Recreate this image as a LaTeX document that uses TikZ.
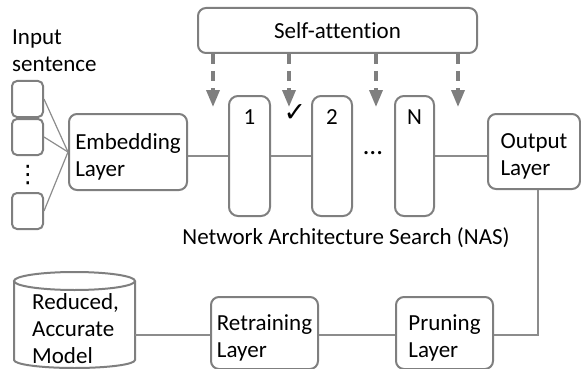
\documentclass[tikz,border=0pt]{standalone}
\usepackage{fontspec}
\setmainfont{Carlito}[Ligatures=NoCommon]
\newfontfamily\symfont{DejaVu Sans}
\usetikzlibrary{arrows.meta}
\definecolor{edgegray}{HTML}{7F7F7F}
\definecolor{conngray}{HTML}{8C8C8C}
\begin{document}
\begin{tikzpicture}[x=1pt,y=-1pt,
  box/.style={draw=edgegray,line width=2pt,rounded corners=8pt,align=left,inner sep=0pt},
  txt/.style={font=\fontsize{23}{27}\selectfont},
  twoline/.style={text height=48pt,text depth=0pt},
  conn/.style={draw=conngray,line width=1.2pt},
  dasharrow/.style={draw=edgegray,line width=3.5pt,dash pattern=on 10pt off 7pt,
    -{Triangle[width=13pt,length=17pt,fill=edgegray]}}
]
\useasboundingbox (0,0) rectangle (581,369);

% input sentence
\node[txt,align=left,anchor=base west,inner sep=0pt] (inlab) at (12,71) {Input\\sentence};
\node[box,rounded corners=5pt,minimum width=31pt,minimum height=36pt] (in1) at (27.5,99) {};
\node[box,rounded corners=5pt,minimum width=31pt,minimum height=36pt] (in2) at (27.5,137) {};
\node[box,rounded corners=5pt,minimum width=31pt,minimum height=36pt] (in3) at (27.5,211) {};
\node[inner sep=0pt,font=\symfont\fontsize{24}{24}\selectfont] (dots) at (28,175) {⋮};

% embedding
\node[box,txt,twoline,minimum width=118pt,minimum height=76pt] (emb) at (128,152) {Embedding\\Layer};
\draw[conn] (in1.east) -- (emb.west);
\draw[conn] (in2.east) -- (emb.west);
\draw[conn] (in3.east) -- (emb.west);

% self-attention
\node[box,txt,minimum width=279pt,minimum height=45pt,align=center] (att) at (337.5,30.5) {Self-attention};

% NAS boxes
\node[box,rounded corners=9pt,minimum width=41pt,minimum height=120pt] (b1) at (249.5,156) {};
\node[box,rounded corners=9pt,minimum width=40pt,minimum height=120pt] (b2) at (332,156) {};
\node[box,rounded corners=9pt,minimum width=39pt,minimum height=120pt] (bn) at (414.5,156) {};
\node[txt,inner sep=0pt] (l1) at (249.5,117) {1};
\node[txt,inner sep=0pt] (l2) at (332,117) {2};
\node[txt,inner sep=0pt] (ln) at (414.5,117) {N};
\node[inner sep=0pt,anchor=base,font=\fontsize{27}{27}\selectfont] (ell) at (373,154) {\dots};
\node[inner sep=0pt,font=\symfont\fontsize{27}{27}\selectfont] (chk) at (295,113) {✓};

% output
\node[box,txt,twoline,minimum width=92pt,minimum height=75pt] (out) at (534,151.5) {Output\\Layer};

\draw[conn] (emb.east |- b1.west) -- (b1.west);
\draw[conn] (b1.east) -- (b2.west);
\draw[conn] (bn.east) -- (out.west |- bn.east);

% dashed arrows
\coordinate (t1) at (213,107);
\coordinate (t2) at (289,107);
\coordinate (t3) at (376,107);
\coordinate (t4) at (458,107);
\draw[dasharrow] (att.south -| t1) -- (t1);
\draw[dasharrow] (att.south -| t2) -- (t2);
\draw[dasharrow] (att.south -| t3) -- (t3);
\draw[dasharrow] (att.south -| t4) -- (t4);

\node[txt,inner sep=0pt] (nas) at (346,238) {Network Architecture Search (NAS)};

% bottom row
\node[box,txt,twoline,minimum width=97pt,minimum height=72pt] (prun) at (444.5,333) {Pruning\\Layer};
\node[box,txt,twoline,minimum width=107pt,minimum height=72pt] (retr) at (264.5,333) {Retraining\\Layer};

% cylinder
\draw[edgegray,line width=2pt] (14,281) -- (14,360) arc[start angle=180,end angle=360,x radius=60.5pt,y radius=8pt] -- (135,281);
\draw[edgegray,line width=2pt] (74.5,281) ellipse[x radius=60.5pt,y radius=9pt];
\coordinate (cyl) at (135,335);
\node[txt,align=left,anchor=base west,inner sep=0pt] (model) at (32,363) {Reduced,\\Accurate\\Model};

\coordinate (corner) at (538,335);
\draw[conn] (out.south -| corner) -- (corner) -- (prun.east |- corner);
\draw[conn] (retr.east |- corner) -- (prun.west |- corner);
\draw[conn] (cyl) -- (retr.west |- cyl);
\end{tikzpicture}
\end{document}
